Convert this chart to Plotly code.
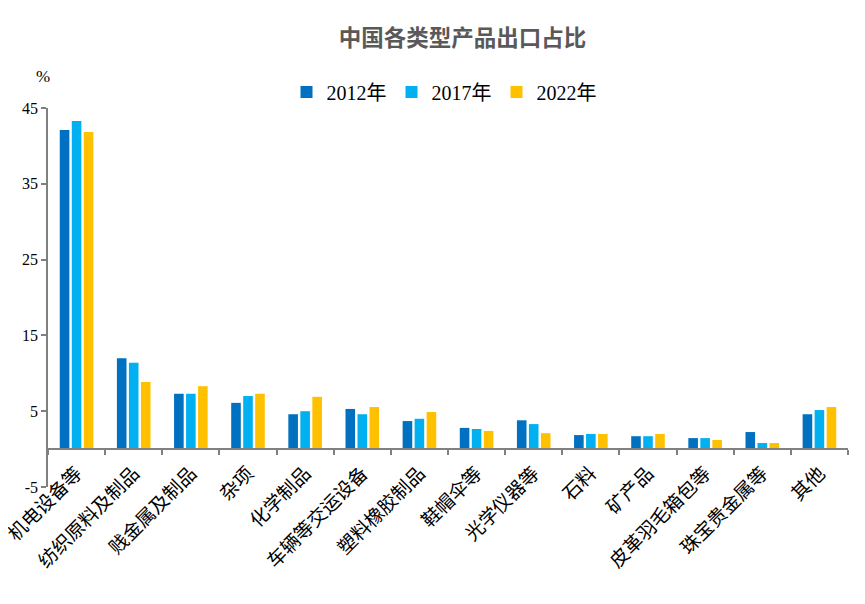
import plotly.graph_objects as go

categories = ["机电设备等", "纺织原料及制品", "贱金属及制品", "杂项", "化学制品",
              "车辆等交运设备", "塑料橡胶制品", "鞋帽伞等", "光学仪器等", "石料",
              "矿产品", "皮革羽毛箱包等", "珠宝贵金属等", "其他"]
v2012 = [42.1, 12.0, 7.3, 6.1, 4.6, 5.3, 3.7, 2.8, 3.8, 1.85, 1.7, 1.45, 2.25, 4.6]
v2017 = [43.3, 11.4, 7.3, 7.0, 5.0, 4.6, 4.0, 2.65, 3.3, 2.0, 1.7, 1.45, 0.8, 5.15]
v2022 = [41.85, 8.85, 8.3, 7.3, 6.9, 5.55, 4.9, 2.4, 2.1, 2.0, 2.0, 1.2, 0.8, 5.55]
years = ["2012年", "2017年", "2022年"]
colors = ["#0070C0", "#00B0F0", "#FFC000"]
yticks = [-5, 5, 15, 25, 35, 45]
yticklabels = ["-5", "5", "15", "25", "35", "45"]

fig = go.Figure()
for name, vals, c in zip(years, [v2012, v2017, v2022], colors):
    fig.add_trace(go.Bar(x=categories, y=vals, name=name, marker_color=c,
                         marker_line_width=0))

axis_color = "#808080"
fig.update_layout(
    width=865, height=604,
    margin=dict(l=40, r=25, t=100, b=125, autoexpand=False),
    plot_bgcolor="white", paper_bgcolor="white",
    bargap=0.37, bargroupgap=0.2,
    title=dict(text="<b>中国各类型产品出口占比</b>", x=454.5 / 865, xanchor="center",
               y=1 - 30 / 604, yanchor="middle",
               font=dict(family="Noto Sans CJK SC", size=22.5, color="#595959")),
    legend=dict(orientation="h", x=0.495, xanchor="center", y=1.042, yanchor="middle",
                font=dict(family="Liberation Serif, Noto Sans CJK SC", size=20, color="#000"),
                itemwidth=30, tracegroupgap=0, bgcolor="rgba(0,0,0,0)"),
    xaxis=dict(anchor="free", position=0.1, showline=True, linecolor=axis_color,
               linewidth=1.5, ticks="outside", tickson="boundaries", ticklen=5,
               tickcolor=axis_color, tickwidth=1.5, tickangle=-45, automargin=False,
               ticklabelstandoff=5,
               tickfont=dict(family="Noto Sans CJK SC", size=19, color="#000"),
               showgrid=False, zeroline=False),
    yaxis=dict(range=[-5, 45], tickvals=yticks, ticktext=yticklabels, showline=True,
               linecolor=axis_color, automargin=False,
               linewidth=1.5, ticks="outside", ticklen=5, tickcolor=axis_color,
               tickwidth=1.5, showgrid=False, zeroline=False,
               tickfont=dict(family="Liberation Serif", size=16, color="#000")),
    annotations=[dict(text="%", xref="paper", yref="paper", x=-0.006, y=1.082,
                      xanchor="center", yanchor="middle", showarrow=False,
                      font=dict(family="Liberation Serif", size=17, color="#000"))],
)

fig.write_html("out.html")
